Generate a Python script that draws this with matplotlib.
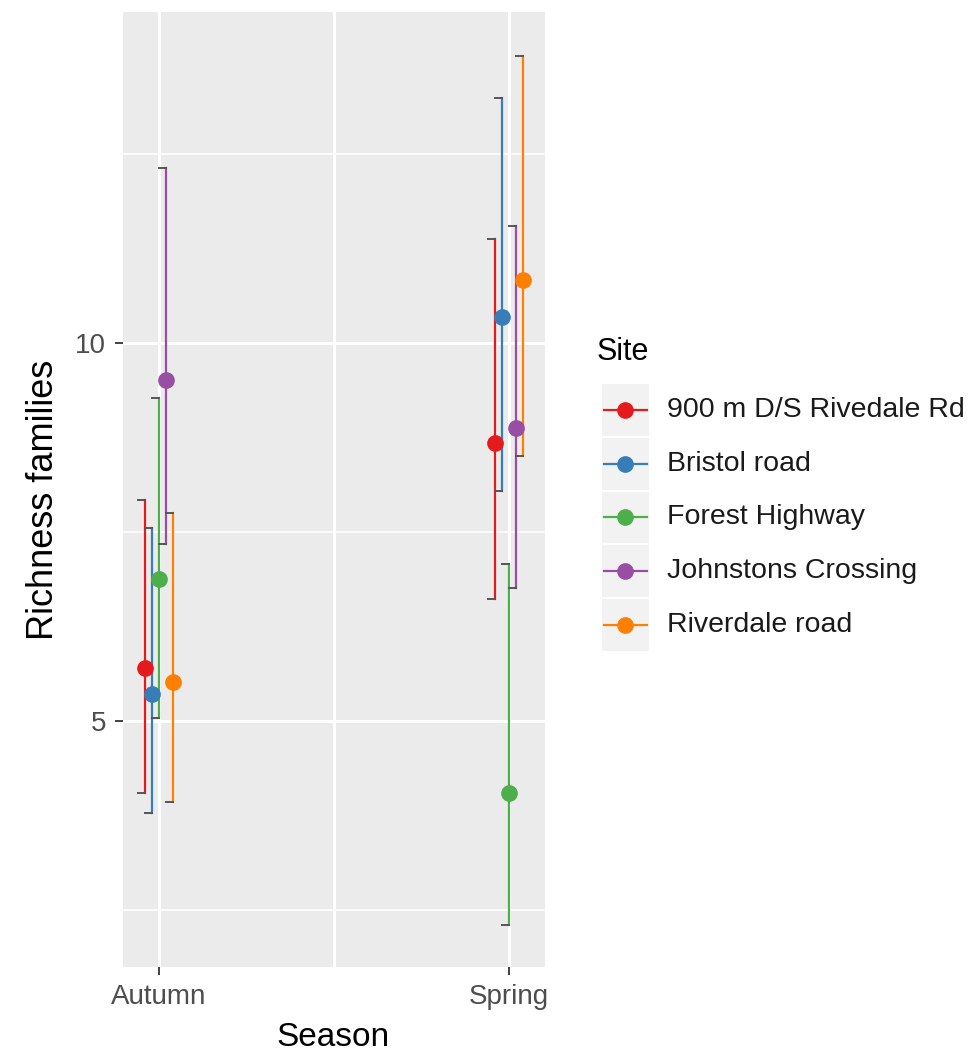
import matplotlib.pyplot as plt
from matplotlib.lines import Line2D
from matplotlib.patches import Rectangle

plt.rcParams['font.family'] = ['Liberation Sans', 'DejaVu Sans']

### data
seasons = ['Autumn', 'Spring']
sites = ['900 m D/S Rivedale Rd', 'Bristol road', 'Forest Highway',
         'Johnstons Crossing', 'Riverdale road']
colors = ['#E41A1C', '#377EB8', '#4DAF4A', '#984EA3', '#FF7F00']

mean_autumn = [5.70, 5.36, 6.88, 9.51, 5.52]
low_autumn  = [4.05, 3.78, 5.04, 7.34, 3.93]
high_autumn = [7.92, 7.55, 9.27, 12.31, 7.75]

mean_spring = [8.68, 10.34, 4.05, 8.88, 10.83]
low_spring  = [6.61, 8.04, 2.30, 6.76, 8.51]
high_spring = [11.38, 13.24, 7.08, 11.55, 13.80]

dodge = [-0.04, -0.02, 0.0, 0.02, 0.04]

W, H = 979, 1059
fig = plt.figure(figsize=(W / 100, H / 100), dpi=100)
ax = fig.add_axes([123 / W, 1 - 967 / H, 422 / W, 955 / H])
ax.set_facecolor('#EBEBEB')
for s in ax.spines.values():
    s.set_visible(False)

ax.set_xlim(0.897, 2.103)
ax.set_ylim(1.746, 14.38)

# grid
for y in [2.5, 7.5, 12.5]:
    ax.axhline(y, color='white', lw=1.1, zorder=0)
for y in [5, 10]:
    ax.axhline(y, color='white', lw=2.2, zorder=0)
for x in [1, 1.5, 2]:
    ax.axvline(x, color='white', lw=2.2, zorder=0)

cap = 0.02
for i, site in enumerate(sites):
    for xc, m, lo, hi in [(1, mean_autumn, low_autumn, high_autumn),
                          (2, mean_spring, low_spring, high_spring)]:
        x = xc + dodge[i]
        ax.plot([x, x], [lo[i], hi[i]], color=colors[i], lw=1.6, zorder=2)
        ax.plot([x - cap, x], [hi[i], hi[i]], color='#555555', lw=1.4, zorder=2)
        ax.plot([x - cap, x], [lo[i], lo[i]], color='#555555', lw=1.4, zorder=2)
        ax.plot(x, m[i], 'o', color=colors[i], ms=11, zorder=3)

ax.set_xticks([1, 2])
ax.set_xticklabels(seasons)
ax.set_yticks([5, 10])
ax.tick_params(axis='both', length=6, width=1.3, color='#333333',
               labelsize=20, labelcolor='#4D4D4D')
ax.tick_params(axis='x', pad=6)
ax.tick_params(axis='y', pad=6)

fig.text(333 / W, 1 - 1037 / H, 'Season', fontsize=24, ha='center', va='center')
fig.text(44 / W, 1 - 500 / H, 'Richness families', fontsize=26,
         rotation=90, ha='center', va='center')

# legend, drawn in pixel coords
lax = fig.add_axes([0, 0, 1, 1])
lax.set_xlim(0, W)
lax.set_ylim(H, 0)
lax.axis('off')
lax.text(597, 352, 'Site', fontsize=22, va='center', ha='left')
key_h = 53.7
for i, site in enumerate(sites):
    yc = 410 + i * key_h
    lax.add_patch(Rectangle((601, yc - key_h / 2), 49, key_h,
                            facecolor='#F2F2F2', edgecolor='white', lw=1.5))
    lax.add_line(Line2D([604, 647], [yc, yc], color=colors[i], lw=1.6))
    lax.plot(625, yc, 'o', color=colors[i], ms=11)
    lax.text(667, yc, site, fontsize=20.5, va='center', ha='left', color='#1A1A1A')

fig.savefig('out.png', dpi=100)
